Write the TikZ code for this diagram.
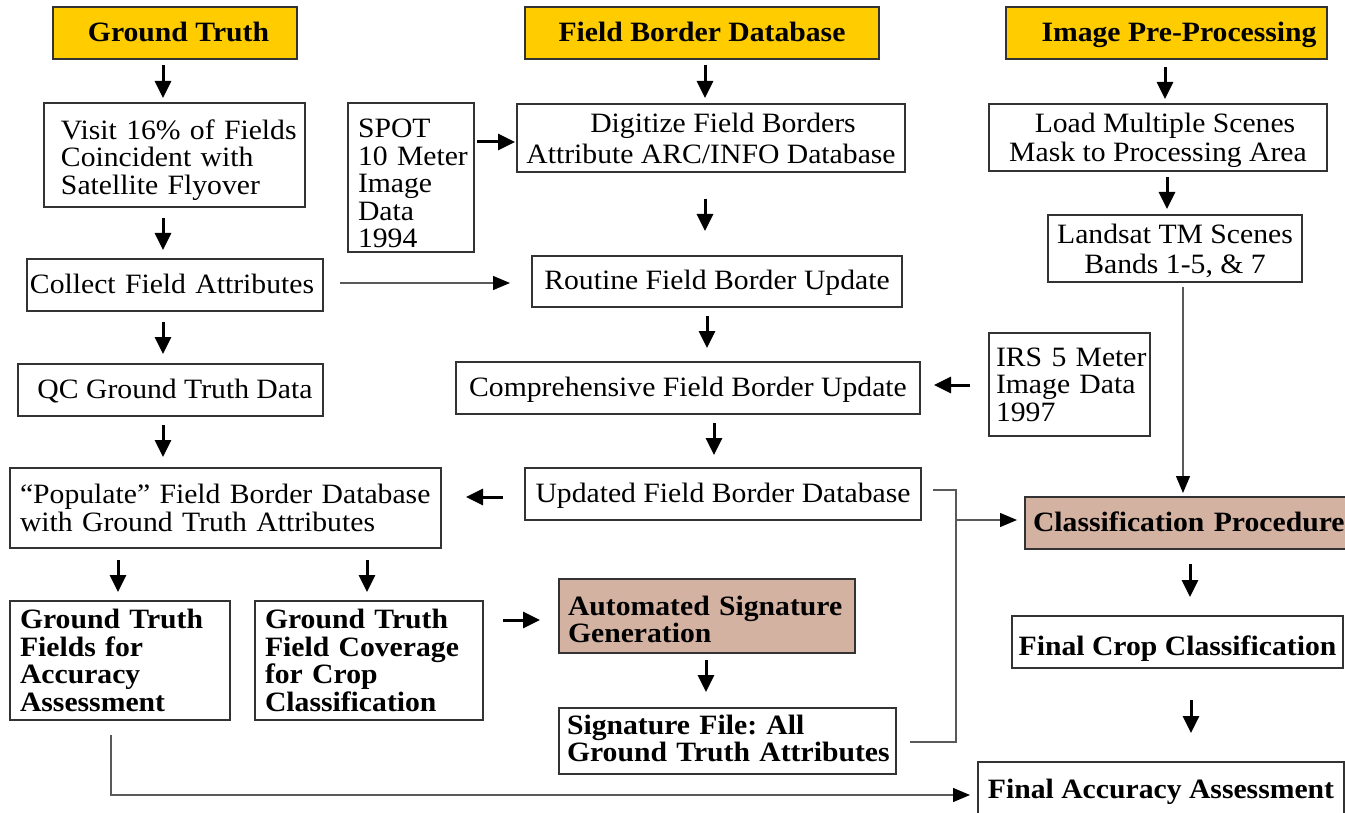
\documentclass[tikz,border=0pt]{standalone}
\usepackage{fontspec}
\setmainfont{Liberation Serif}[FakeStretch=1.06]
\usetikzlibrary{arrows.meta}
\definecolor{hdryellow}{HTML}{FFCC00}
\definecolor{proctan}{HTML}{D4B2A2}
\definecolor{edgegray}{HTML}{333333}
\newcommand\fsz{\fontsize{28pt}{27.5pt}\selectfont\frenchspacing}
\begin{document}
\begin{tikzpicture}[x=1pt,y=-1pt,
 box/.style={draw=edgegray, line width=1.3pt, inner sep=0pt, outer sep=0pt, font=\fsz, fill=white},
 one/.style={text height=17pt, text depth=0pt},
 cbox/.style={box, align=center},
 lbox/.style={box, align=left},
 hdr/.style={box, one, fill=hdryellow, font=\fsz\bfseries},
 proc/.style={fill=proctan, font=\fsz\bfseries},
 arr/.style={line width=3pt, -{Triangle[length=17pt,width=16pt]}},
 conn/.style={line width=1.3pt, draw=black!65},
 connarr/.style={conn, -{Triangle[length=17pt,width=14pt,color=black]}}
]
\useasboundingbox (0,0) rectangle (1345,813);

% headers
\node[hdr, minimum width=244pt, minimum height=52pt] (gth) at (175,33) {\hspace*{7pt}Ground Truth};
\node[hdr, minimum width=354pt, minimum height=52pt] (fbh) at (702,33) {Field Border Database};
\node[hdr, minimum width=321pt, minimum height=52pt] (iph) at (1166.5,33) {\hspace*{25pt}Image Pre-Processing};

% boxes
\node[lbox, text width=261pt, minimum height=104pt] (visit) at (174.5,155) {\leftskip=17pt\rule{0pt}{30pt}Visit 16\% of Fields\\Coincident with\\Satellite Flyover\par};
\node[lbox, text width=126pt, minimum height=149pt] (spot) at (411,177.5) {\leftskip=10pt\rule{0pt}{31pt}SPOT\\10 Meter\\Image\\Data\\1994\par};
\node[cbox, minimum width=388pt, minimum height=68pt] (dig) at (711,138) {\hspace*{24pt}Digitize Field Borders\\[3.5pt]Attribute ARC/INFO Database};
\node[cbox, minimum width=338pt, minimum height=67pt, text depth=0pt] (load) at (1158,137.5) {\hspace*{14pt}Load Multiple Scenes\\[1.5pt]Mask to Processing Area};
\node[cbox, minimum width=254pt, minimum height=67pt, text depth=0pt] (landsat) at (1175,248.5) {Landsat TM Scenes\\[2.5pt]Bands 1-5, \& 7};
\node[lbox, one, text width=296pt, minimum height=52pt] (collect) at (175,285) {\leftskip=3pt Collect Field Attributes\par};
\node[box, one, minimum width=370pt, minimum height=51pt] (routine) at (717,281.5) {Routine Field Border Update};
\node[box, one, minimum width=305pt, minimum height=52pt] (qc) at (170.5,390) {\hspace*{9pt}QC Ground Truth Data};
\node[box, one, minimum width=464pt, minimum height=52pt] (comp) at (688,388) {Comprehensive Field Border Update};
\node[lbox, text width=161pt, minimum height=103pt] (irs) at (1069.5,384.5) {\leftskip=7pt IRS 5 Meter\\Image Data\\1997\par};
\node[lbox, proc, one, text width=327pt, minimum height=52pt] (class) at (1188.5,523) {\leftskip=8pt Classification Procedure\par};
\node[lbox, text width=431pt, minimum height=80pt] (pop) at (225.5,508) {\leftskip=10pt “Populate” Field Border Database\\with Ground Truth Attributes\par};
\node[box, one, minimum width=396pt, minimum height=52pt] (upd) at (723,494) {Updated Field Border Database};
\node[lbox, text width=220pt, minimum height=119pt, font=\fsz\bfseries] (gtf) at (120,660.5) {\leftskip=10pt Ground Truth\\Fields for\\Accuracy\\Assessment\par};
\node[lbox, text width=228pt, minimum height=119pt, font=\fsz\bfseries] (gtc) at (369,660.5) {\leftskip=10pt Ground Truth\\Field Coverage\\for Crop\\Classification\par};
\node[lbox, proc, text width=296pt, minimum height=74pt] (auto) at (707,616) {\leftskip=9pt\rule{0pt}{26pt}Automated Signature\\Generation\par};
\node[lbox, text width=337pt, minimum height=66pt, font=\fsz\bfseries] (sig) at (727.5,741) {\leftskip=8pt Signature File: All\\Ground Truth Attributes\rule[-5pt]{0pt}{5pt}\par};
\node[box, minimum width=331pt, minimum height=52pt, font=\fsz\bfseries, text height=26pt, text depth=0pt] (fcc) at (1177.5,642) {Final Crop Classification};
\node[box, one, minimum width=366pt, minimum height=56pt, font=\fsz\bfseries] (fac) at (1161,790) {Final Accuracy Assessment};

% thick arrows
\draw[arr, shorten <=6pt, shorten >=5pt] (163,0 |- gth.south) -- (163,0 |- visit.north);
\draw[arr, shorten <=6pt, shorten >=6pt] (705,0 |- fbh.south) -- (705,0 |- dig.north);
\draw[arr, shorten <=8pt, shorten >=5pt] (1165,0 |- iph.south) -- (1165,0 |- load.north);
\draw[arr, shorten <=3pt, shorten >=2pt] (spot.east |- 0,142) -- (dig.west |- 0,142);
\draw[arr, shorten <=27pt, shorten >=25pt] (705,0 |- dig.south) -- (705,0 |- routine.north);
\draw[arr, shorten <=6pt, shorten >=6pt] (1167,0 |- load.south) -- (1167,0 |- landsat.north);
\draw[arr, shorten <=11pt, shorten >=9pt] (163,0 |- visit.south) -- (163,0 |- collect.north);
\draw[arr, shorten <=9pt, shorten >=14pt] (707,0 |- routine.south) -- (707,0 |- comp.north);
\draw[arr, shorten <=11pt, shorten >=10pt] (163,0 |- collect.south) -- (163,0 |- qc.north);
\draw[arr, shorten <=19pt, shorten >=14pt] (irs.west |- 0,385) -- (comp.east |- 0,385);
\draw[arr, shorten <=9pt, shorten >=11pt] (163,0 |- qc.south) -- (163,0 |- pop.north);
\draw[arr, shorten <=9pt, shorten >=13pt] (714,0 |- comp.south) -- (714,0 |- upd.north);
\draw[arr, shorten <=22pt, shorten >=25pt] (upd.west |- 0,497) -- (pop.east |- 0,497);
\draw[arr, shorten <=12pt, shorten >=9pt] (118,0 |- pop.south) -- (118,0 |- gtf.north);
\draw[arr, shorten <=12pt, shorten >=9pt] (367,0 |- pop.south) -- (367,0 |- gtc.north);
\draw[arr, shorten <=20pt, shorten >=19pt] (gtc.east |- 0,620) -- (auto.west |- 0,620);
\draw[arr, shorten <=7pt, shorten >=16pt] (706,0 |- auto.south) -- (706,0 |- sig.north);
\draw[arr, shorten <=15pt, shorten >=19pt] (1190,0 |- class.south) -- (1190,0 |- fcc.north);
\draw[arr, shorten <=32pt, shorten >=29pt] (1191,0 |- fcc.south) -- (1191,0 |- fac.north);

% thin connectors
\draw[connarr, shorten <=17pt, shorten >=22pt] (collect.east |- 0,283) -- (routine.west |- 0,283);
\draw[connarr, shorten <=5pt, shorten >=4pt] (1183,0 |- landsat.south) -- (1183,0 |- class.north);
\draw[conn] ([xshift=12pt,yshift=4pt]upd.east) -| ([xshift=60pt,yshift=-1pt]sig.east) -- ([xshift=14pt,yshift=-1pt]sig.east);
\coordinate (mj) at (956,520);
\draw[connarr, shorten >=8pt] (mj) -- (class.west |- mj);
\draw[connarr, shorten >=8pt] ([xshift=-9pt,yshift=-15pt]gtf.south) |- (fac.west |- 0,795);
\end{tikzpicture}
\end{document}
